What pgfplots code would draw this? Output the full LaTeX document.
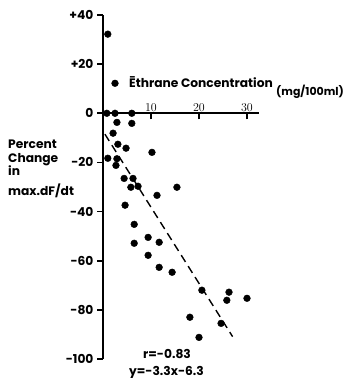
\documentclass[border=0pt]{standalone}
\usepackage{pgfplots}
\pgfplotsset{compat=1.18}
\usepackage{fontspec}
\setmainfont{Poppins}
\begin{document}
\begin{tikzpicture}[font=\fontsize{12.3}{14}\selectfont\bfseries]
\useasboundingbox (0,0) rectangle (343bp,378bp);
\begin{axis}[
  at={(103bp,19bp)}, anchor=south west,
  scale only axis, width=156bp, height=344bp,
  xmin=0, xmax=32.5, ymin=-100, ymax=40,
  axis x line*=middle, axis y line*=left,
  axis line style={line width=1.6pt},
  xtick={10,20,30}, ytick={-100,-80,-60,-40,-20,0,20,40},
  yticklabels={-100,-80,-60,-40,-20,0,+20,+40},
  tick align=outside, major tick length=6bp,
  major tick style={black, line width=1.6pt},
  xticklabel style={anchor=south, yshift=4bp},
  yticklabel style={anchor=east, xshift=0bp},
  clip=false,
]
\addplot[only marks, mark=*, mark size=3.4pt, black] coordinates {
(1.0,32.2) (2.5,12.2) (0.8,0) (2.5,0) (6.0,0)
(2.9,-3.7) (6.0,-4.1) (2.1,-8.1) (3.1,-12.6) (4.8,-14.2)
(10.2,-15.9) (1.0,-18.3) (2.9,-18.5) (2.7,-21.2) (4.4,-26.5)
(6.25,-26.5) (5.8,-30.1) (7.3,-29.7) (15.4,-30.1) (11.25,-33.4)
(4.6,-37.4) (6.5,-45.2) (6.5,-52.9) (9.4,-50.5) (11.7,-52.5)
(9.4,-57.8) (11.7,-62.7) (14.4,-64.7) (20.6,-72.0) (26.25,-72.8)
(25.8,-76.1) (30.0,-75.3) (18.1,-83.0) (24.6,-85.5) (20.0,-91.2)
};
\addplot[black, line width=1.4pt, dash pattern=on 8bp off 5bp] coordinates {(0.4,-8.5) (27.0,-90.9)};
\end{axis}
\node[anchor=base west, inner sep=0] at (8bp,229bp) {Percent};
\node[anchor=base west, inner sep=0] at (8bp,215bp) {Change};
\node[anchor=base west, inner sep=0] at (8bp,202bp) {in};
\node[anchor=base west, inner sep=0] at (8bp,182bp) {max.dF/dt};
\node[anchor=base west, inner sep=0] at (129bp,290bp) {\=Ethrane Concentration};
\node[anchor=base west, inner sep=0, font=\fontsize{11}{13}\selectfont\bfseries] at (276bp,282bp) {(mg/100ml)};
\node[anchor=base west, inner sep=0] at (143bp,20bp) {r=-0.83};
\node[anchor=base west, inner sep=0] at (129bp,3bp) {y=-3.3x-6.3};
\end{tikzpicture}
\end{document}
